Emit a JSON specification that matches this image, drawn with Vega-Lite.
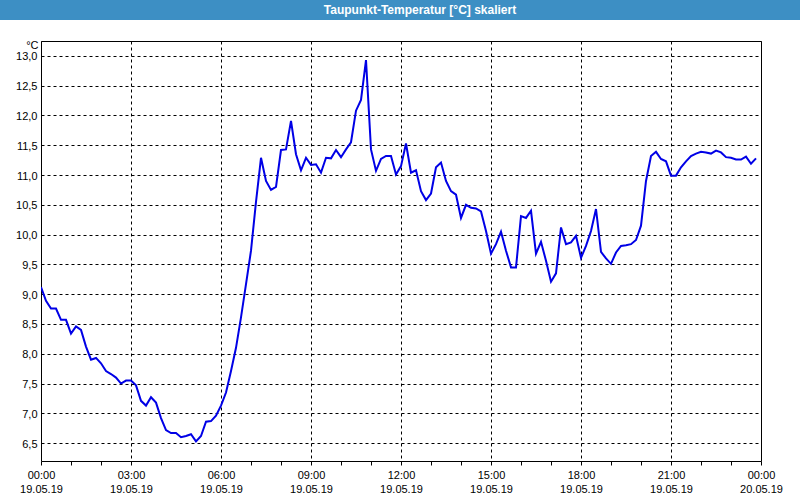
{
  "$schema": "https://vega.github.io/schema/vega-lite/v6.json",
  "background": "white",
  "padding": 0,
  "spacing": 18,
  "config": {
    "font": "Liberation Sans",
    "view": {"stroke": null}
  },
  "vconcat": [
    {
      "width": 800,
      "height": 20,
      "view": {"fill": "#3d8fc4", "stroke": null},
      "data": {"values": [{"label": "Taupunkt-Temperatur [°C] skaliert"}]},
      "mark": {"type": "text", "color": "white", "font": "Liberation Sans", "fontSize": 12, "fontWeight": "bold", "dx": 20, "baseline": "middle"},
      "encoding": {"text": {"field": "label", "type": "nominal"}}
    },
    {
      "spacing": 0,
      "hconcat": [
        {
          "width": 1,
          "height": 20,
          "data": {"values": []},
          "mark": {"type": "point", "opacity": 0},
          "encoding": {}
        },
        {
          "width": 720,
          "height": 420,
          "view": {"stroke": "black", "strokeWidth": 1, "fill": "white"},
          "data": {"values": [
            {"t": "2019-05-19T00:00", "v": 9.12}, {"t": "2019-05-19T00:10", "v": 8.89}, {"t": "2019-05-19T00:20", "v": 8.76}, {"t": "2019-05-19T00:30", "v": 8.76},
            {"t": "2019-05-19T00:40", "v": 8.57}, {"t": "2019-05-19T00:50", "v": 8.57}, {"t": "2019-05-19T01:00", "v": 8.34}, {"t": "2019-05-19T01:10", "v": 8.46},
            {"t": "2019-05-19T01:20", "v": 8.40}, {"t": "2019-05-19T01:30", "v": 8.12}, {"t": "2019-05-19T01:40", "v": 7.90}, {"t": "2019-05-19T01:50", "v": 7.93},
            {"t": "2019-05-19T02:00", "v": 7.84}, {"t": "2019-05-19T02:10", "v": 7.71}, {"t": "2019-05-19T02:20", "v": 7.66}, {"t": "2019-05-19T02:30", "v": 7.60},
            {"t": "2019-05-19T02:40", "v": 7.50}, {"t": "2019-05-19T02:50", "v": 7.55}, {"t": "2019-05-19T03:00", "v": 7.55}, {"t": "2019-05-19T03:10", "v": 7.47},
            {"t": "2019-05-19T03:20", "v": 7.21}, {"t": "2019-05-19T03:30", "v": 7.13}, {"t": "2019-05-19T03:40", "v": 7.27}, {"t": "2019-05-19T03:50", "v": 7.18},
            {"t": "2019-05-19T04:00", "v": 6.92}, {"t": "2019-05-19T04:10", "v": 6.72}, {"t": "2019-05-19T04:20", "v": 6.67}, {"t": "2019-05-19T04:30", "v": 6.67},
            {"t": "2019-05-19T04:40", "v": 6.60}, {"t": "2019-05-19T04:50", "v": 6.62}, {"t": "2019-05-19T05:00", "v": 6.65}, {"t": "2019-05-19T05:10", "v": 6.53},
            {"t": "2019-05-19T05:20", "v": 6.62}, {"t": "2019-05-19T05:30", "v": 6.86}, {"t": "2019-05-19T05:40", "v": 6.87}, {"t": "2019-05-19T05:50", "v": 6.96},
            {"t": "2019-05-19T06:00", "v": 7.13}, {"t": "2019-05-19T06:10", "v": 7.35}, {"t": "2019-05-19T06:20", "v": 7.71}, {"t": "2019-05-19T06:30", "v": 8.10},
            {"t": "2019-05-19T06:40", "v": 8.61}, {"t": "2019-05-19T06:50", "v": 9.17}, {"t": "2019-05-19T07:00", "v": 9.73}, {"t": "2019-05-19T07:10", "v": 10.55},
            {"t": "2019-05-19T07:20", "v": 11.29}, {"t": "2019-05-19T07:30", "v": 10.90}, {"t": "2019-05-19T07:40", "v": 10.75}, {"t": "2019-05-19T07:50", "v": 10.80},
            {"t": "2019-05-19T08:00", "v": 11.42}, {"t": "2019-05-19T08:10", "v": 11.43}, {"t": "2019-05-19T08:20", "v": 11.91}, {"t": "2019-05-19T08:30", "v": 11.35},
            {"t": "2019-05-19T08:40", "v": 11.08}, {"t": "2019-05-19T08:50", "v": 11.29}, {"t": "2019-05-19T09:00", "v": 11.17}, {"t": "2019-05-19T09:10", "v": 11.18},
            {"t": "2019-05-19T09:20", "v": 11.04}, {"t": "2019-05-19T09:30", "v": 11.29}, {"t": "2019-05-19T09:40", "v": 11.28}, {"t": "2019-05-19T09:50", "v": 11.42},
            {"t": "2019-05-19T10:00", "v": 11.30}, {"t": "2019-05-19T10:10", "v": 11.43}, {"t": "2019-05-19T10:20", "v": 11.55}, {"t": "2019-05-19T10:30", "v": 12.08},
            {"t": "2019-05-19T10:40", "v": 12.26}, {"t": "2019-05-19T10:50", "v": 12.93}, {"t": "2019-05-19T11:00", "v": 11.43}, {"t": "2019-05-19T11:10", "v": 11.07},
            {"t": "2019-05-19T11:20", "v": 11.27}, {"t": "2019-05-19T11:30", "v": 11.32}, {"t": "2019-05-19T11:40", "v": 11.32}, {"t": "2019-05-19T11:50", "v": 11.01},
            {"t": "2019-05-19T12:00", "v": 11.15}, {"t": "2019-05-19T12:10", "v": 11.53}, {"t": "2019-05-19T12:20", "v": 11.04}, {"t": "2019-05-19T12:30", "v": 11.08},
            {"t": "2019-05-19T12:40", "v": 10.73}, {"t": "2019-05-19T12:50", "v": 10.58}, {"t": "2019-05-19T13:00", "v": 10.69}, {"t": "2019-05-19T13:10", "v": 11.13},
            {"t": "2019-05-19T13:20", "v": 11.21}, {"t": "2019-05-19T13:30", "v": 10.90}, {"t": "2019-05-19T13:40", "v": 10.73}, {"t": "2019-05-19T13:50", "v": 10.67},
            {"t": "2019-05-19T14:00", "v": 10.28}, {"t": "2019-05-19T14:10", "v": 10.50}, {"t": "2019-05-19T14:20", "v": 10.45}, {"t": "2019-05-19T14:30", "v": 10.44},
            {"t": "2019-05-19T14:40", "v": 10.39}, {"t": "2019-05-19T14:50", "v": 10.06}, {"t": "2019-05-19T15:00", "v": 9.68}, {"t": "2019-05-19T15:10", "v": 9.84},
            {"t": "2019-05-19T15:20", "v": 10.05}, {"t": "2019-05-19T15:30", "v": 9.73}, {"t": "2019-05-19T15:40", "v": 9.45}, {"t": "2019-05-19T15:50", "v": 9.45},
            {"t": "2019-05-19T16:00", "v": 10.31}, {"t": "2019-05-19T16:10", "v": 10.28}, {"t": "2019-05-19T16:20", "v": 10.40}, {"t": "2019-05-19T16:30", "v": 9.68},
            {"t": "2019-05-19T16:40", "v": 9.88}, {"t": "2019-05-19T16:50", "v": 9.56}, {"t": "2019-05-19T17:00", "v": 9.21}, {"t": "2019-05-19T17:10", "v": 9.35},
            {"t": "2019-05-19T17:20", "v": 10.12}, {"t": "2019-05-19T17:30", "v": 9.84}, {"t": "2019-05-19T17:40", "v": 9.87}, {"t": "2019-05-19T17:50", "v": 9.98},
            {"t": "2019-05-19T18:00", "v": 9.61}, {"t": "2019-05-19T18:10", "v": 9.81}, {"t": "2019-05-19T18:20", "v": 10.06}, {"t": "2019-05-19T18:30", "v": 10.43},
            {"t": "2019-05-19T18:40", "v": 9.71}, {"t": "2019-05-19T18:50", "v": 9.60}, {"t": "2019-05-19T19:00", "v": 9.51}, {"t": "2019-05-19T19:10", "v": 9.70},
            {"t": "2019-05-19T19:20", "v": 9.81}, {"t": "2019-05-19T19:30", "v": 9.82}, {"t": "2019-05-19T19:40", "v": 9.84}, {"t": "2019-05-19T19:50", "v": 9.91},
            {"t": "2019-05-19T20:00", "v": 10.15}, {"t": "2019-05-19T20:10", "v": 10.90}, {"t": "2019-05-19T20:20", "v": 11.32}, {"t": "2019-05-19T20:30", "v": 11.39},
            {"t": "2019-05-19T20:40", "v": 11.27}, {"t": "2019-05-19T20:50", "v": 11.23}, {"t": "2019-05-19T21:00", "v": 10.99}, {"t": "2019-05-19T21:10", "v": 10.99},
            {"t": "2019-05-19T21:20", "v": 11.13}, {"t": "2019-05-19T21:30", "v": 11.23}, {"t": "2019-05-19T21:40", "v": 11.32}, {"t": "2019-05-19T21:50", "v": 11.36},
            {"t": "2019-05-19T22:00", "v": 11.39}, {"t": "2019-05-19T22:10", "v": 11.38}, {"t": "2019-05-19T22:20", "v": 11.36}, {"t": "2019-05-19T22:30", "v": 11.41},
            {"t": "2019-05-19T22:40", "v": 11.38}, {"t": "2019-05-19T22:50", "v": 11.30}, {"t": "2019-05-19T23:00", "v": 11.29}, {"t": "2019-05-19T23:10", "v": 11.26},
            {"t": "2019-05-19T23:20", "v": 11.26}, {"t": "2019-05-19T23:30", "v": 11.31}, {"t": "2019-05-19T23:40", "v": 11.19}, {"t": "2019-05-19T23:50", "v": 11.28}
          ]},
          "layer": [
            {
              "mark": {"type": "line", "color": "#0000e6", "strokeWidth": 2, "clip": true},
              "encoding": {
                "x": {
                  "field": "t", "type": "temporal",
                  "scale": {"domain": [{"year": 2019, "month": 5, "date": 19, "hours": 0}, {"year": 2019, "month": 5, "date": 20, "hours": 0}]},
                  "axis": {
                    "orient": "bottom",
                    "title": null,
                    "tickCount": 30,
                    "values": [
                      {"year": 2019, "month": 5, "date": 19, "hours": 0}, {"year": 2019, "month": 5, "date": 19, "hours": 3},
                      {"year": 2019, "month": 5, "date": 19, "hours": 6}, {"year": 2019, "month": 5, "date": 19, "hours": 9},
                      {"year": 2019, "month": 5, "date": 19, "hours": 12}, {"year": 2019, "month": 5, "date": 19, "hours": 15},
                      {"year": 2019, "month": 5, "date": 19, "hours": 18}, {"year": 2019, "month": 5, "date": 19, "hours": 21},
                      {"year": 2019, "month": 5, "date": 20, "hours": 0}
                    ],
                    "labelExpr": "[timeFormat(datum.value, '%H:%M'), timeFormat(datum.value, '%d.%m.%y')]",
                    "labelFont": "Liberation Sans", "labelFontSize": 11, "labelColor": "black",
                    "labelLineHeight": 14, "labelPadding": 4, "labelFlush": false, "labelOverlap": false,
                    "labelAngle": 0, "labelAlign": "center", "labelBaseline": "top",
                    "ticks": true, "tickSize": 4, "tickColor": "black", "tickWidth": 1,
                    "domain": false,
                    "grid": true, "gridColor": "black", "gridDash": [3, 3], "gridWidth": 1, "gridOpacity": 1
                  }
                },
                "y": {
                  "field": "v", "type": "quantitative",
                  "scale": {"domain": [6.2, 13.25], "nice": false, "zero": false},
                  "axis": {
                    "tickCount": 30,
                    "values": [6.5, 7, 7.5, 8, 8.5, 9, 9.5, 10, 10.5, 11, 11.5, 12, 12.5, 13],
                    "labelExpr": "replace(format(datum.value, '.1f'), '.', ',')",
                    "labelFont": "Liberation Sans", "labelFontSize": 11, "labelColor": "black", "labelPadding": 4,
                    "labelOverlap": false, "labelFlush": false, "labelOffset": 1,
                    "ticks": false, "domain": false, "minExtent": 39,
                    "grid": true, "gridColor": "black", "gridDash": [3, 3], "gridWidth": 1, "gridOpacity": 1,
                    "title": "°C", "titleAngle": 0, "titleX": -3, "titleY": 4, "titleAlign": "right", "titleBaseline": "middle",
                    "titleFont": "Liberation Sans", "titleFontSize": 11, "titleFontWeight": "normal", "titleColor": "black"
                  }
                }
              }
            },
            {
              "mark": {"type": "line", "strokeOpacity": 0},
              "encoding": {
                "x": {
                  "field": "t", "type": "temporal",
                  "scale": {"domain": [{"year": 2019, "month": 5, "date": 19, "hours": 0}, {"year": 2019, "month": 5, "date": 20, "hours": 0}]},
                  "axis": {
                    "orient": "bottom",
                    "title": null,
                    "tickCount": 30,
                    "values": [
                      {"year": 2019, "month": 5, "date": 19, "hours": 1}, {"year": 2019, "month": 5, "date": 19, "hours": 2},
                      {"year": 2019, "month": 5, "date": 19, "hours": 4}, {"year": 2019, "month": 5, "date": 19, "hours": 5},
                      {"year": 2019, "month": 5, "date": 19, "hours": 7}, {"year": 2019, "month": 5, "date": 19, "hours": 8},
                      {"year": 2019, "month": 5, "date": 19, "hours": 10}, {"year": 2019, "month": 5, "date": 19, "hours": 11},
                      {"year": 2019, "month": 5, "date": 19, "hours": 13}, {"year": 2019, "month": 5, "date": 19, "hours": 14},
                      {"year": 2019, "month": 5, "date": 19, "hours": 16}, {"year": 2019, "month": 5, "date": 19, "hours": 17},
                      {"year": 2019, "month": 5, "date": 19, "hours": 19}, {"year": 2019, "month": 5, "date": 19, "hours": 20},
                      {"year": 2019, "month": 5, "date": 19, "hours": 22}, {"year": 2019, "month": 5, "date": 19, "hours": 23}
                    ],
                    "labels": false, "domain": false, "grid": false,
                    "ticks": true, "tickSize": 4, "tickColor": "black", "tickWidth": 1
                  }
                },
                "y": {"field": "v", "type": "quantitative", "scale": {"domain": [6.2, 13.25], "nice": false, "zero": false}}
              }
            }
          ],
          "resolve": {"axis": {"x": "independent"}}
        }
      ]
    }
  ]
}
